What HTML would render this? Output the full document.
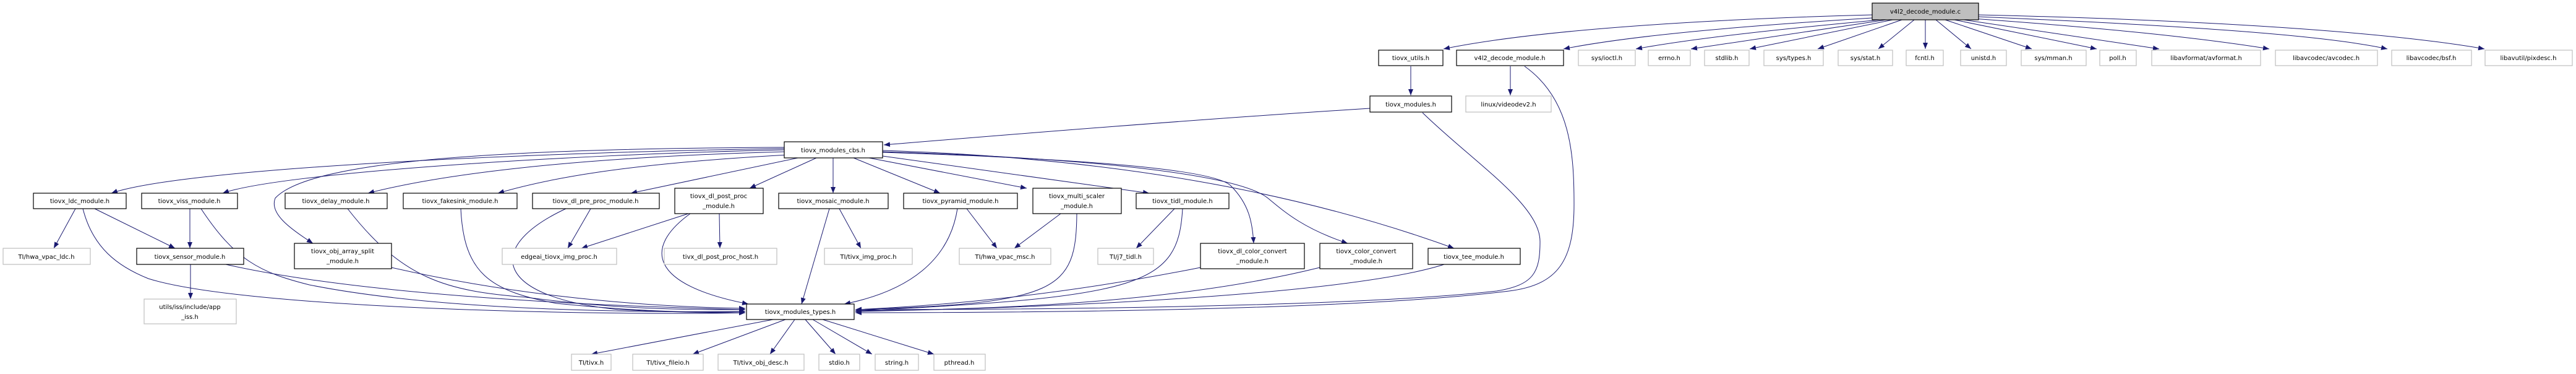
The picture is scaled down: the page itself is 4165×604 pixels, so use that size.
<!DOCTYPE html>
<html><head><meta charset="utf-8"><style>
html,body{margin:0;padding:0;background:#fff;}
svg{display:block;}
text{font-family:"DejaVu Sans","Liberation Sans",sans-serif;font-size:10px;fill:#000;text-anchor:middle;}
.d{fill:#fff;stroke:#000;stroke-width:1.2;}
.u{fill:#fff;stroke:#bfbfbf;stroke-width:1.2;}
.e{fill:none;stroke:#191970;stroke-width:1;}
</style></head><body>
<svg width="4165" height="604" viewBox="0 0 4165 604" xmlns="http://www.w3.org/2000/svg">
<defs><marker id="a" markerWidth="10" markerHeight="8" refX="10" refY="4" orient="auto" markerUnits="userSpaceOnUse"><path d="M0,0 L10,4 L0,8 Z" fill="#191970"/></marker></defs>
<g class="e" marker-end="url(#a)">
<path d="M3027,24 C2800,30 2500,45 2334,79"/>
<path d="M3027,29 C2850,40 2650,55 2528,79"/>
<path d="M3040,32 C2900,45 2750,60 2645,79"/>
<path d="M3050,32 L2734,79"/>
<path d="M3060,32 L2829,79"/>
<path d="M3075,32 L2939,79"/>
<path d="M3095,32 L3037,79"/>
<path d="M3113,32 L3113,79"/>
<path d="M3130,32 L3187,79"/>
<path d="M3145,32 L3285,79"/>
<path d="M3160,32 L3390,79"/>
<path d="M3175,32 L3491,79"/>
<path d="M3190,30 C3400,45 3550,60 3669,79"/>
<path d="M3199,27 C3500,40 3750,55 3860,79"/>
<path d="M3199,24 C3550,32 3850,50 4017,79"/>
<path d="M2281,107 L2281,154"/>
<path d="M2442,107 L2442,154"/>
<path d="M2465,107 C2540,160 2545,250 2545,330 C2545,420 2520,460 2440,470 C2200,500 1700,505 1383,505"/>
<path d="M2215,175 C1900,195 1600,220 1429,234"/>
<path d="M2300,182 C2380,260 2490,330 2490,390 C2490,440 2480,460 2420,470 C2200,495 1700,500 1383,500"/>
<path d="M1268,240 C900,245 300,270 180,312"/>
<path d="M1268,242 C900,250 450,280 360,312"/>
<path d="M1268,238 C800,240 500,260 445,320 C435,345 470,370 506,393"/>
<path d="M1270,245 C900,255 700,285 595,312"/>
<path d="M1275,250 C1000,265 880,290 805,312"/>
<path d="M1290,255 L1020,312"/>
<path d="M1320,255 L1212,304"/>
<path d="M1347,255 L1347,312"/>
<path d="M1380,255 L1520,312"/>
<path d="M1405,255 L1660,304"/>
<path d="M1427,252 L1858,312"/>
<path d="M1427,246 C1700,255 1960,270 1990,300 C2020,330 2025,360 2027,393"/>
<path d="M1427,245 C1750,255 2000,280 2050,320 C2080,345 2110,370 2179,393"/>
<path d="M1427,243 C1800,255 2100,310 2351,401"/>
<path d="M122,337 L87,401"/>
<path d="M153,337 L283,401"/>
<path d="M134,337 C150,400 190,430 240,450 C400,500 1000,510 1205,505"/>
<path d="M307,337 L307,401"/>
<path d="M325,337 C380,420 420,440 500,460 C700,500 1000,505 1205,503"/>
<path d="M308,427 L308,483"/>
<path d="M365,427 C600,480 1000,495 1205,500"/>
<path d="M633,432 C800,470 1000,495 1205,498"/>
<path d="M562,337 C650,450 720,470 850,480 C1000,500 1100,500 1205,500"/>
<path d="M745,337 C750,440 790,470 900,490 C1050,505 1150,505 1205,503"/>
<path d="M915,337 C780,400 800,480 1000,500 C1100,505 1150,505 1205,505"/>
<path d="M955,337 L918,401"/>
<path d="M1113,345 L940,401"/>
<path d="M1163,345 L1164,401"/>
<path d="M1116,345 C1040,400 1050,460 1210,491"/>
<path d="M1341,337 L1296,491"/>
<path d="M1357,337 L1392,401"/>
<path d="M1563,337 L1612,401"/>
<path d="M1548,337 C1535,420 1470,470 1365,491"/>
<path d="M1715,345 L1640,401"/>
<path d="M1741,345 C1740,470 1710,490 1383,500"/>
<path d="M1899,337 L1837,401"/>
<path d="M1912,337 C1905,460 1850,480 1383,502"/>
<path d="M1941,432 C1700,480 1500,495 1383,500"/>
<path d="M2134,432 C1900,490 1600,500 1383,502"/>
<path d="M2335,427 C2200,470 1800,495 1383,503"/>
<path d="M1250,516 L956,572"/>
<path d="M1270,516 L1120,572"/>
<path d="M1285,516 L1245,572"/>
<path d="M1302,516 L1351,572"/>
<path d="M1314,516 L1410,572"/>
<path d="M1330,516 L1510,572"/>
</g>
<!-- nodes -->
<rect x="3027" y="5" width="172" height="27" fill="#bfbfbf" stroke="#000" stroke-width="1.2"/><text x="3113" y="22">v4l2_decode_module.c</text>
<rect class="d" x="2229" y="81" width="104" height="25"/><text x="2281" y="97">tiovx_utils.h</text>
<rect class="d" x="2355" y="81" width="173" height="25"/><text x="2441" y="97">v4l2_decode_module.h</text>
<rect class="u" x="2552" y="81" width="92" height="25"/><text x="2598" y="97">sys/ioctl.h</text>
<rect class="u" x="2665" y="81" width="68" height="25"/><text x="2699" y="97">errno.h</text>
<rect class="u" x="2756" y="81" width="72" height="25"/><text x="2792" y="97">stdlib.h</text>
<rect class="u" x="2852" y="81" width="96" height="25"/><text x="2900" y="97">sys/types.h</text>
<rect class="u" x="2972" y="81" width="88" height="25"/><text x="3016" y="97">sys/stat.h</text>
<rect class="u" x="3082" y="81" width="60" height="25"/><text x="3112" y="97">fcntl.h</text>
<rect class="u" x="3170" y="81" width="74" height="25"/><text x="3207" y="97">unistd.h</text>
<rect class="u" x="3268" y="81" width="105" height="25"/><text x="3320" y="97">sys/mman.h</text>
<rect class="u" x="3395" y="81" width="59" height="25"/><text x="3424" y="97">poll.h</text>
<rect class="u" x="3479" y="81" width="176" height="25"/><text x="3567" y="97">libavformat/avformat.h</text>
<rect class="u" x="3679" y="81" width="165" height="25"/><text x="3761" y="97">libavcodec/avcodec.h</text>
<rect class="u" x="3867" y="81" width="129" height="25"/><text x="3931" y="97">libavcodec/bsf.h</text>
<rect class="u" x="4018" y="81" width="141" height="25"/><text x="4088" y="97">libavutil/pixdesc.h</text>
<rect class="d" x="2215" y="155" width="132" height="26"/><text x="2281" y="172">tiovx_modules.h</text>
<rect class="u" x="2370" y="155" width="138" height="26"/><text x="2439" y="172">linux/videodev2.h</text>
<rect class="d" x="1268" y="229" width="159" height="26"/><text x="1347" y="246">tiovx_modules_cbs.h</text>
<rect class="d" x="54" y="312" width="150" height="25"/><text x="129" y="328">tiovx_ldc_module.h</text>
<rect class="d" x="229" y="312" width="155" height="25"/><text x="306" y="328">tiovx_viss_module.h</text>
<rect class="d" x="461" y="312" width="165" height="25"/><text x="543" y="328">tiovx_delay_module.h</text>
<rect class="d" x="652" y="312" width="184" height="25"/><text x="744" y="328">tiovx_fakesink_module.h</text>
<rect class="d" x="861" y="312" width="205" height="25"/><text x="963" y="328">tiovx_dl_pre_proc_module.h</text>
<rect class="d" x="1091" y="304" width="143" height="41"/><text x="1162" y="320">tiovx_dl_post_proc</text><text x="1162" y="336">_module.h</text>
<rect class="d" x="1259" y="312" width="177" height="25"/><text x="1347" y="328">tiovx_mosaic_module.h</text>
<rect class="d" x="1461" y="312" width="184" height="25"/><text x="1553" y="328">tiovx_pyramid_module.h</text>
<rect class="d" x="1670" y="304" width="143" height="41"/><text x="1741" y="320">tiovx_multi_scaler</text><text x="1741" y="336">_module.h</text>
<rect class="d" x="1837" y="312" width="150" height="25"/><text x="1912" y="328">tiovx_tidl_module.h</text>
<rect class="u" x="5" y="401" width="141" height="26"/><text x="75" y="418">TI/hwa_vpac_ldc.h</text>
<rect class="d" x="221" y="401" width="173" height="26"/><text x="307" y="418">tiovx_sensor_module.h</text>
<rect class="d" x="476" y="393" width="157" height="41"/><text x="554" y="409">tiovx_obj_array_split</text><text x="554" y="425">_module.h</text>
<rect class="u" x="812" y="401" width="185" height="26"/><text x="904" y="418">edgeai_tiovx_img_proc.h</text>
<rect class="u" x="1074" y="401" width="182" height="26"/><text x="1165" y="418">tivx_dl_post_proc_host.h</text>
<rect class="u" x="1333" y="401" width="142" height="26"/><text x="1404" y="418">TI/tivx_img_proc.h</text>
<rect class="u" x="1551" y="401" width="148" height="26"/><text x="1625" y="418">TI/hwa_vpac_msc.h</text>
<rect class="u" x="1775" y="401" width="90" height="26"/><text x="1820" y="418">TI/j7_tidl.h</text>
<rect class="d" x="1941" y="393" width="168" height="41"/><text x="2025" y="409">tiovx_dl_color_convert</text><text x="2025" y="425">_module.h</text>
<rect class="d" x="2134" y="393" width="150" height="41"/><text x="2209" y="409">tiovx_color_convert</text><text x="2209" y="425">_module.h</text>
<rect class="d" x="2309" y="401" width="149" height="26"/><text x="2383" y="418">tiovx_tee_module.h</text>
<rect class="u" x="233" y="483" width="149" height="40"/><text x="307" y="499">utils/iss/include/app</text><text x="307" y="515">_iss.h</text>
<rect class="d" x="1207" y="491" width="174" height="25"/><text x="1294" y="507">tiovx_modules_types.h</text>
<rect class="u" x="924" y="572" width="64" height="26"/><text x="956" y="589">TI/tivx.h</text>
<rect class="u" x="1023" y="572" width="114" height="26"/><text x="1080" y="589">TI/tivx_fileio.h</text>
<rect class="u" x="1161" y="572" width="139" height="26"/><text x="1230" y="589">TI/tivx_obj_desc.h</text>
<rect class="u" x="1324" y="572" width="66" height="26"/><text x="1357" y="589">stdio.h</text>
<rect class="u" x="1415" y="572" width="70" height="26"/><text x="1450" y="589">string.h</text>
<rect class="u" x="1510" y="572" width="83" height="26"/><text x="1551" y="589">pthread.h</text>
</svg>
</body></html>
